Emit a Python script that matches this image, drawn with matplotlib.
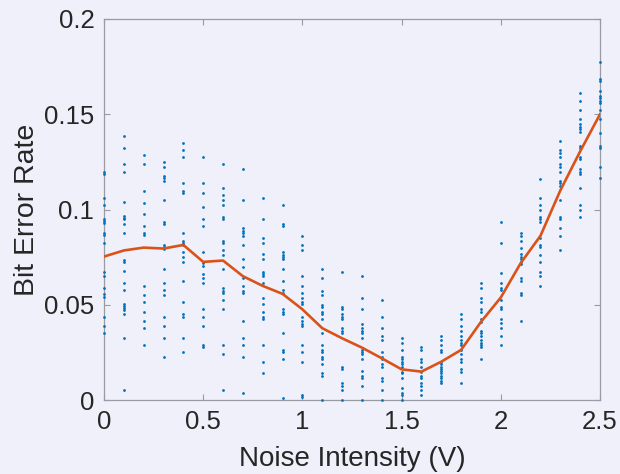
import matplotlib
matplotlib.use("Agg")
import matplotlib.pyplot as plt

noise_levels = [0.0, 0.1, 0.2, 0.3, 0.4, 0.5, 0.6, 0.7, 0.8, 0.9, 1.0, 1.1, 1.2,
                1.3, 1.4, 1.5, 1.6, 1.7, 1.8, 1.9, 2.0, 2.1, 2.2, 2.3, 2.4, 2.5]

mean_ber = [0.0753, 0.0785, 0.0800, 0.0795, 0.0814, 0.0725, 0.0732, 0.0650, 0.0599,
            0.0557, 0.0476, 0.0377, 0.0324, 0.0275, 0.0219, 0.0161, 0.0149, 0.0201,
            0.0263, 0.0410, 0.0538, 0.0718, 0.0862, 0.1100, 0.1305, 0.1500]

samples_00 = [0.1195, 0.1187, 0.1062, 0.1024, 0.095, 0.094, 0.0928, 0.0875, 0.0866,
              0.0826, 0.0674, 0.0651, 0.059, 0.0555, 0.0543, 0.0438, 0.0389, 0.035]
samples_01 = [0.1388, 0.1325, 0.1237, 0.1199, 0.1038, 0.0966, 0.0957, 0.095, 0.0924,
              0.0875, 0.0735, 0.0726, 0.0677, 0.0613, 0.0576, 0.0502, 0.0494, 0.0485,
              0.0473, 0.0452, 0.0327, 0.0053]
samples_02 = [0.1286, 0.1237, 0.1099, 0.1036, 0.0975, 0.0914, 0.0875, 0.0866, 0.06,
              0.0551, 0.0513, 0.0464, 0.0415, 0.0376, 0.0289]
samples_03 = [0.1251, 0.1225, 0.1176, 0.1164, 0.1152, 0.105, 0.0936, 0.0924, 0.0814,
              0.0802, 0.0791, 0.0688, 0.0613, 0.0576, 0.0551, 0.0438, 0.0389, 0.0327,
              0.0228]
samples_04 = [0.1351, 0.1313, 0.1274, 0.1138, 0.1099, 0.1089, 0.0875, 0.0837, 0.0826,
              0.0814, 0.0775, 0.0749, 0.0726, 0.0625, 0.0513, 0.045, 0.0438, 0.0327,
              0.025]
samples_05 = [0.1274, 0.1138, 0.1089, 0.1012, 0.095, 0.0914, 0.0775, 0.0718, 0.0705,
              0.0662, 0.0639, 0.0613, 0.0476, 0.0438, 0.0389, 0.0289, 0.0277]
samples_06 = [0.1237, 0.1111, 0.1076, 0.105, 0.1024, 0.0963, 0.095, 0.0837, 0.0826,
              0.0788, 0.0761, 0.0688, 0.0586, 0.0574, 0.056, 0.0525, 0.0476, 0.0289,
              0.024, 0.0053]
samples_07 = [0.1211, 0.105, 0.0901, 0.0889, 0.0875, 0.0863, 0.0814, 0.0739, 0.07,
              0.0639, 0.06, 0.0574, 0.0564, 0.0415, 0.0327, 0.0289, 0.0228, 0.0039]
samples_08 = [0.1062, 0.095, 0.0852, 0.0826, 0.0765, 0.0739, 0.0674, 0.0662, 0.0651,
              0.0613, 0.0537, 0.0502, 0.0464, 0.0438, 0.0425, 0.0289, 0.0201, 0.014]
samples_09 = [0.1024, 0.0924, 0.0914, 0.0775, 0.0761, 0.0749, 0.0739, 0.0688, 0.0625,
              0.0576, 0.0564, 0.0476, 0.0464, 0.0452, 0.035, 0.0263, 0.025, 0.0214,
              0.0012]
samples_10 = [0.0863, 0.0814, 0.0788, 0.0651, 0.06, 0.0564, 0.0537, 0.0513, 0.0502,
              0.0438, 0.0415, 0.0399, 0.0389, 0.0289, 0.025, 0.0201, 0.0026, 0.0018]
samples_11 = [0.0688, 0.0639, 0.0574, 0.0551, 0.0499, 0.049, 0.0464, 0.0452, 0.0425,
              0.035, 0.0289, 0.0263, 0.025, 0.0228, 0.0214, 0.0187, 0.014, 0.0126, 0.0]
samples_12 = [0.0674, 0.049, 0.0476, 0.0452, 0.0438, 0.0425, 0.0376, 0.0362, 0.035,
              0.0175, 0.0163, 0.0088, 0.0075, 0.0051, 0.0]
samples_13 = [0.0651, 0.0537, 0.0476, 0.0399, 0.0376, 0.0362, 0.035, 0.0327, 0.0263,
              0.025, 0.024, 0.0214, 0.0152, 0.0126, 0.0114, 0.0075, 0.0]
samples_14 = [0.0525, 0.0438, 0.0376, 0.0338, 0.0315, 0.025, 0.0228, 0.0214, 0.0187,
              0.0175, 0.0114, 0.01, 0.0051, 0.0]
samples_15 = [0.0327, 0.0301, 0.0263, 0.0228, 0.0214, 0.0201, 0.0187, 0.0175, 0.0149,
              0.014, 0.0114, 0.0065, 0.0039, 0.0026, 0.0]
samples_16 = [0.0277, 0.0263, 0.0214, 0.0201, 0.0175, 0.0149, 0.0126, 0.0114, 0.0088,
              0.0075, 0.0051, 0.0026]
samples_17 = [0.0338, 0.0315, 0.0289, 0.0263, 0.025, 0.0201, 0.0187, 0.0175, 0.0163,
              0.0152, 0.014, 0.0126, 0.0114, 0.01, 0.0088]
samples_18 = [0.0452, 0.0425, 0.0389, 0.0362, 0.0338, 0.0315, 0.0301, 0.0289, 0.0263,
              0.024, 0.0214, 0.0201, 0.0163, 0.0149, 0.0088]
samples_19 = [0.0613, 0.0586, 0.0537, 0.0513, 0.0476, 0.0464, 0.0425, 0.0411, 0.0362,
              0.035, 0.0338, 0.0315, 0.0301, 0.0289, 0.0277, 0.0214]
samples_20 = [0.0936, 0.0823, 0.0665, 0.0613, 0.0586, 0.0576, 0.0525, 0.0487, 0.0476,
              0.0425, 0.0403, 0.0376, 0.0338, 0.0289]
samples_21 = [0.0875, 0.0863, 0.0837, 0.08, 0.0765, 0.0749, 0.0739, 0.0726, 0.0712,
              0.0639, 0.0625, 0.0564, 0.0551, 0.0415]
samples_22 = [0.116, 0.1062, 0.1024, 0.0999, 0.0963, 0.095, 0.0936, 0.0852, 0.0814,
              0.0802, 0.0761, 0.0726, 0.0674, 0.0649, 0.06]
samples_23 = [0.1362, 0.1313, 0.1299, 0.1274, 0.1237, 0.1225, 0.1199, 0.115, 0.1138,
              0.1125, 0.105, 0.0963, 0.095, 0.0901, 0.0863, 0.0788]
samples_24 = [0.161, 0.1572, 0.1523, 0.1474, 0.1449, 0.1435, 0.1423, 0.1409, 0.1335,
              0.1325, 0.1274, 0.1264, 0.1213, 0.1199, 0.1187, 0.1111, 0.1024, 0.0998,
              0.0963]
samples_25 = [0.1773, 0.1685, 0.1675, 0.1624, 0.1598, 0.1584, 0.1572, 0.1561, 0.1523,
              0.1474, 0.14, 0.1335, 0.1325, 0.1225, 0.1164]

all_samples = [samples_00, samples_01, samples_02, samples_03, samples_04, samples_05,
               samples_06, samples_07, samples_08, samples_09, samples_10, samples_11,
               samples_12, samples_13, samples_14, samples_15, samples_16, samples_17,
               samples_18, samples_19, samples_20, samples_21, samples_22, samples_23,
               samples_24, samples_25]

x_ticks = [0, 0.5, 1, 1.5, 2, 2.5]
x_tick_labels = ["0", "0.5", "1", "1.5", "2", "2.5"]
y_ticks = [0, 0.05, 0.1, 0.15, 0.2]
y_tick_labels = ["0", "0.05", "0.1", "0.15", "0.2"]

bg = "#f0f0fa"
text_color = "#262626"
plt.rcParams["font.family"] = ["Liberation Sans", "DejaVu Sans"]

fig = plt.figure(figsize=(6.2, 4.74), dpi=100, facecolor=bg)
ax = fig.add_axes([104 / 620, 74 / 474, 496 / 620, 381 / 474])
ax.set_facecolor(bg)

spine_color = "#9a9aa2"
for s in ax.spines.values():
    s.set_color(spine_color)
    s.set_linewidth(0.9)
    s.set_zorder(1.5)

xs, ys = [], []
for xv, col in zip(noise_levels, all_samples):
    for v in col:
        xs.append(xv)
        ys.append(v)
ax.scatter(xs, ys, s=4, color="#0072BD", linewidths=0, zorder=3, clip_on=False)
ax.plot(noise_levels, mean_ber, color="#D95319", linewidth=1.9, zorder=4,
        solid_joinstyle="round")

ax.set_xlim(0, 2.5)
ax.set_ylim(0, 0.2)
ax.set_xticks(x_ticks)
ax.set_xticklabels(x_tick_labels)
ax.set_yticks(y_ticks)
ax.set_yticklabels(y_tick_labels)

ax.tick_params(direction="in", length=4, width=0.8, color=spine_color,
               labelsize=18.5, labelcolor=text_color, top=True, right=True, pad=7)
ax.set_xlabel("Noise Intensity (V)", fontsize=20, color=text_color, labelpad=9)
ax.set_ylabel("Bit Error Rate", fontsize=20.5, color=text_color, labelpad=3)

fig.savefig("out.png", dpi=100, facecolor=bg)
